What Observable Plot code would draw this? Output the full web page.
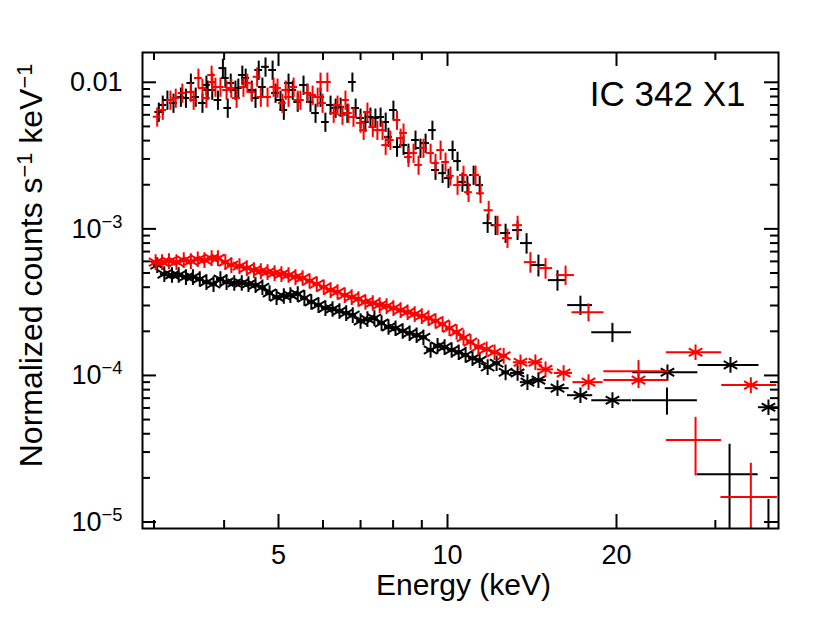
<!DOCTYPE html>
<html><head><meta charset="utf-8">
<script src="https://cdn.jsdelivr.net/npm/d3@7"></script>
<script src="https://cdn.jsdelivr.net/npm/@observablehq/plot@0.6"></script>
<style>
body{margin:0;background:#fff;}
#chart{width:830px;height:620px;}
</style></head><body><div id="chart"></div>
<script>
// ---- Data (energy keV, normalized counts s^-1 keV^-1) ----
// Source spectrum, dense bins [E, value]
const srcBlack = [[3.06,.00627],[3.11,.00700],[3.17,.00757],[3.25,.00722],[3.35,.00794],[3.42,.00781],[3.49,.00989],[3.56,.00794],[3.66,.00722],[3.72,.00958],[3.74,.00886],[3.81,.00886],[3.90,.00757],[3.98,.0125],[4.02,.0107],[4.06,.00668],[4.11,.00989],[4.19,.00886],[4.24,.00914],[4.31,.01121],[4.37,.0107],[4.48,.00886],[4.55,.00781],[4.61,.01213],[4.68,.00929],[4.74,.01275],[4.88,.01213],[4.94,.00845],[5.04,.00757],[5.11,.00647],[5.21,.00989],[5.30,.00886],[5.41,.00734],[5.54,.00958],[5.63,.00845],[5.70,.00734],[5.82,.00617],[5.94,.00794],[6.06,.00536],[6.19,.0070],[6.32,.00668],[6.45,.00678],[6.63,.00617],[6.77,.01005],[6.86,.00668],[7.00,.00571],[7.14,.00536],[7.29,.0058],[7.44,.00571],[7.60,.0058],[7.76,.00536],[7.85,.00423],[8.01,.00647],[8.13,.00362],[8.35,.00373],[8.52,.00329],[8.77,.00404],[8.95,.00356],[9.14,.00385],[9.40,.00472],[9.52,.00252],[9.80,.0024],[10.04,.00222],[10.21,.00345],[10.42,.0029],[10.63,.00209],[10.85,.00199],[11.13,.00233],[11.41,.00199]];
const srcRed = [[3.04,.00582],[3.11,.00647],[3.21,.00757],[3.28,.00781],[3.37,.00845],[3.49,.00859],[3.53,.00757],[3.60,.0107],[3.66,.00914],[3.72,.00781],[3.80,.01121],[3.81,.01005],[3.86,.00929],[3.94,.00929],[4.04,.00886],[4.12,.00914],[4.21,.00781],[4.33,.00929],[4.40,.00989],[4.48,.00859],[4.58,.0109],[4.65,.00794],[4.78,.00794],[4.90,.00929],[4.98,.00914],[5.08,.00722],[5.15,.00886],[5.21,.00794],[5.32,.00929],[5.41,.00757],[5.47,.00757],[5.63,.00845],[5.75,.00819],[5.87,.00794],[5.94,.01005],[5.99,.00722],[6.11,.01005],[6.27,.00617],[6.37,.0070],[6.50,.00598],[6.58,.00757],[6.66,.00617],[6.80,.0058],[7.00,.00528],[7.09,.00472],[7.20,.00627],[7.36,.00495],[7.50,.00472],[7.66,.00472],[7.76,.00373],[7.91,.00404],[8.13,.00553],[8.25,.00417],[8.35,.00451],[8.52,.00309],[8.70,.00329],[8.88,.00273],[9.06,.00356],[9.33,.00329],[9.52,.00281],[9.72,.00345],[9.92,.00286],[10.12,.0023],[10.42,.00199],[10.68,.00233],[10.90,.00178],[11.22,.00233],[11.45,.00175]];
// Source spectrum, wide bins [E, half-width, value, relative error]
const srcBlackWide = [[11.79,.22,.001095,.15],[12.18,.22,.00106,.15],[12.69,.26,.000936,.15],[13.33,.27,.000981,.15],[13.83,.34,.0008,.16],[14.52,.42,.000566,.17],[15.70,.58,.000447,.16],[17.25,.88,.000302,.15],[19.67,1.6,.000197,.15],[24.6,3.27,6.78e-5,.21],[31.8,3.96,2.12e-5,.6],[37.3,1.5,7.5e-6,.9]];
const srcRedWide = [[11.84,.22,.00134,.15],[12.28,.22,.00106,.15],[12.79,.26,.000865,.15],[13.33,.27,.00106,.15],[14.05,.35,.000593,.16],[14.95,.43,.00054,.16],[16.23,.6,.000484,.15],[17.83,1.17,.00027,.14],[21.89,2.9,1.07e-4,.18],[27.66,3.12,3.62e-5,.43],[34.7,4.0,1.48e-5,.7]];
// Background spectrum (asterisks), dense bins [E, value]
const bkgBlack = [[3.04,.000566],[3.13,.000491],[3.23,.000484],[3.32,.000484],[3.42,.000469],[3.52,.000469],[3.62,.000455],[3.72,.000433],[3.83,.00042],[3.94,.000455],[4.04,.000433],[4.17,.000427],[4.30,.000427],[4.42,.00042],[4.55,.000413],[4.68,.0004],[4.82,.000365],[4.96,.000342],[5.11,.000348],[5.25,.000353],[5.41,.000359],[5.56,.000337],[5.72,.000317],[5.89,.000302],[6.06,.000288],[6.24,.000284],[6.42,.000275],[6.60,.000266],[6.78,.000258],[7.00,.000235],[7.20,.000242],[7.41,.000246],[7.63,.000228],[7.85,.000214],[8.08,.00021],[8.32,.000201],[8.56,.000194],[8.81,.000188],[9.06,.000182],[9.33,.000149],[9.60,.000159],[9.88,.000156],[10.17,.000149],[10.47,.000144],[10.77,.000138],[11.08,.000131],[11.41,.000127],[11.79,.000114],[12.23,.000121],[12.69,.000105]];
const bkgRed = [[3.02,.000593],[3.10,.000593],[3.19,.000602],[3.29,.000593],[3.39,.000612],[3.49,.000602],[3.59,.000621],[3.69,.000612],[3.80,.000631],[3.90,.000631],[4.02,.000593],[4.12,.000566],[4.26,.000557],[4.39,.00054],[4.52,.000523],[4.65,.000515],[4.78,.000507],[4.92,.000499],[5.06,.000491],[5.21,.000484],[5.36,.000469],[5.52,.000462],[5.68,.000441],[5.85,.00042],[6.02,.0004],[6.19,.000382],[6.37,.000371],[6.56,.000353],[6.75,.000342],[6.94,.000332],[7.14,.000317],[7.36,.000312],[7.57,.000302],[7.79,.000297],[8.01,.000288],[8.25,.000279],[8.49,.00027],[8.74,.000262],[9.00,.000254],[9.25,.000246],[9.52,.000235],[9.80,.000224],[10.08,.00021],[10.38,.000198],[10.68,.000181],[10.99,.000169],[11.35,.000156],[11.74,.000151],[12.13,.000144],[12.59,.000136]];
// Background, wide bins [E, half-width, value]
const bkgBlackWide = [[13.33,.38,1.04e-4],[13.88,.40,9.0e-5],[14.52,.48,9.29e-5],[15.70,.77,8.19e-5],[17.25,.89,7.33e-5],[19.67,1.6,6.78e-5],[24.65,3.27,1.05e-4],[31.92,3.96,1.18e-4],[37.3,1.5,6.07e-5]];
const bkgRedWide = [[13.49,.39,1.23e-4],[14.34,.41,1.23e-4],[14.95,.49,1.10e-4],[16.1,.6,1.04e-4],[17.83,1.1,9.0e-5],[21.89,2.9,9.29e-5],[27.66,3.12,1.44e-4],[34.7,3.9,8.59e-5]];

// ---- Axis ticks ----
const xMajorTicks = [5, 10, 20];
const xMinorTicks = [3, 4, 6, 7, 8, 9, 30];
const xTickLabels = ["5", "10", "20"];
const yMajorTicks = [1e-5, 1e-4, 1e-3, 1e-2];
const yMinorTicks = [2e-5,3e-5,4e-5,5e-5,6e-5,7e-5,8e-5,9e-5,2e-4,3e-4,4e-4,5e-4,6e-4,7e-4,8e-4,9e-4,2e-3,3e-3,4e-3,5e-3,6e-3,7e-3,8e-3,9e-3];
const yTickLabels = ["10−5", "10−4", "10−3", "0.01"];
const xLabel = "Energy (keV)";
const yLabel = "Normalized counts s−1 keV−1";
const title = "IC 342 X1";

// ---- Layout ----
const W = 830, H = 620, mL = 142, mR = 52, mT = 52, mB = 92;
const innerW = W - mL - mR, innerH = H - mT - mB;
const FONT = "'Liberation Sans', Arial, Helvetica, sans-serif";
const binFrac = 0.016, relErr = 0.15;
const BLACK = "#000000", RED = "#ff0000";

function crossMarks(dense, wide, color) {
  const pts = dense.map(([E, v]) => ({E, lo: E * (1 - binFrac), hi: E * (1 + binFrac), v, vlo: v * (1 - relErr), vhi: v * (1 + relErr)}))
    .concat(wide.map(([E, dE, v, e]) => ({E, lo: E - dE, hi: E + dE, v, vlo: v * (1 - e), vhi: v * (1 + e)})));
  return [
    Plot.ruleY(pts, {y: "v", x1: "lo", x2: "hi", stroke: color, strokeWidth: 2, clip: true}),
    Plot.ruleX(pts, {x: "E", y1: "vlo", y2: "vhi", stroke: color, strokeWidth: 2, clip: true})
  ];
}
function starMarks(dense, wide, color) {
  const pts = dense.map(([E, v]) => ({E, lo: E * (1 - binFrac), hi: E * (1 + binFrac), v}))
    .concat(wide.map(([E, dE, v]) => ({E, lo: E - dE, hi: E + dE, v})));
  return [
    Plot.ruleY(pts, {y: "v", x1: "lo", x2: "hi", stroke: color, strokeWidth: 2, clip: true}),
    Plot.dot(pts, {x: "E", y: "v", symbol: d3.symbolAsterisk, r: 7.4, fill: "none", stroke: color, strokeWidth: 2, clip: true})
  ];
}

const chart = Plot.plot({
  width: W, height: H,
  marginLeft: mL, marginRight: mR, marginTop: mT, marginBottom: mB,
  style: {fontFamily: FONT, background: "#fff", color: "#000"},
  x: {type: "log", domain: [2.862, 38.87], axis: null},
  y: {type: "log", domain: [9.03e-6, 0.01597], axis: null},
  marks: [
    ...starMarks(bkgBlack, bkgBlackWide, BLACK),
    ...starMarks(bkgRed, bkgRedWide, RED),
    ...crossMarks(srcBlack, srcBlackWide, BLACK),
    ...crossMarks(srcRed, srcRedWide, RED),
    // ticks (inward, mirrored)
    Plot.tickX(xMajorTicks, {x: d => d, insetTop: innerH - 14, stroke: BLACK, strokeWidth: 2}),
    Plot.tickX(xMinorTicks, {x: d => d, insetTop: innerH - 8, stroke: BLACK, strokeWidth: 2}),
    Plot.tickX(xMajorTicks, {x: d => d, insetBottom: innerH - 14, stroke: BLACK, strokeWidth: 2}),
    Plot.tickX(xMinorTicks, {x: d => d, insetBottom: innerH - 8, stroke: BLACK, strokeWidth: 2}),
    Plot.tickY(yMajorTicks, {y: d => d, insetRight: innerW - 14, stroke: BLACK, strokeWidth: 2}),
    Plot.tickY(yMinorTicks, {y: d => d, insetRight: innerW - 8, stroke: BLACK, strokeWidth: 2}),
    Plot.tickY(yMajorTicks, {y: d => d, insetLeft: innerW - 14, stroke: BLACK, strokeWidth: 2}),
    Plot.tickY(yMinorTicks, {y: d => d, insetLeft: innerW - 8, stroke: BLACK, strokeWidth: 2}),
    Plot.frame({stroke: BLACK, strokeWidth: 2}),
    // tick labels
    Plot.text(xMajorTicks, {x: d => d, text: (d, i) => xTickLabels[i], frameAnchor: "bottom", lineAnchor: "middle", dy: 27, fontSize: 27, fill: BLACK}),
    Plot.text(yMajorTicks, {y: d => d, text: (d, i) => yTickLabels[i], frameAnchor: "left", lineAnchor: "middle", dx: -20, textAnchor: "end", fontSize: 27, fill: BLACK}),
    // axis labels and title
    Plot.text([xLabel], {text: d => d, frameAnchor: "bottom", lineAnchor: "middle", textAnchor: "middle", dx: 3, dy: 57, fontSize: 30, fill: BLACK}),
    Plot.text([yLabel], {text: d => d, frameAnchor: "left", lineAnchor: "middle", textAnchor: "middle", dx: -111, dy: -25, rotate: -90, fontSize: 32, fill: BLACK}),
    Plot.text([title], {text: d => d, frameAnchor: "top-right", lineAnchor: "middle", textAnchor: "end", dx: -33, dy: 42, fontSize: 35, fill: BLACK})
  ]
});
document.getElementById("chart").appendChild(chart);

// superscripts as tspans
const supMap = {
  "10−5": [["10", 0], ["−5", 1]],
  "10−4": [["10", 0], ["−4", 1]],
  "10−3": [["10", 0], ["−3", 1]],
  "Normalized counts s−1 keV−1": [["Normalized counts s", 0], ["−1", 1], [" keV", 0], ["−1", 1]]
};
d3.select(chart).selectAll("text").each(function() {
  const t = this.textContent;
  const parts = supMap[t];
  if (!parts) return;
  const sel = d3.select(this);
  sel.text(null);
  let up = false;
  for (const [s, sup] of parts) {
    const ts = sel.append("tspan").text(s);
    if (sup && !up) { ts.attr("dy", "-10px").attr("font-size", "0.68em"); up = true; }
    else if (!sup && up) { ts.attr("dy", "10px"); up = false; }
    else if (sup) ts.attr("font-size", "0.68em");
  }
});
</script>
</body></html>
